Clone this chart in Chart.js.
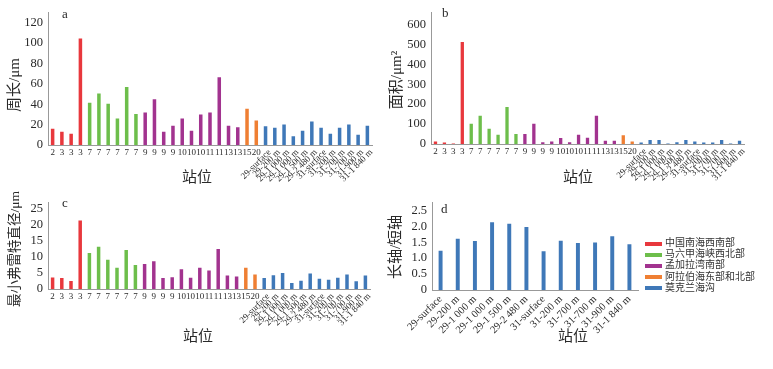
<!DOCTYPE html>
<html>
<head>
<meta charset="utf-8">
<script src="https://cdn.jsdelivr.net/npm/chart.js@4/dist/chart.umd.min.js"></script>
<style>
  body { margin: 0; background: #fff; }
  #wrap { position: relative; width: 773px; height: 369px; overflow: hidden; }
  canvas { position: absolute; }
  #legend { position: absolute; left: 645px; top: 237px; font: 10px 'Liberation Serif', 'Noto Sans CJK SC', serif; color: #333; }
  #legend div { height: 11.2px; line-height: 11.2px; white-space: nowrap; }
  #legend span { display: inline-block; width: 17px; height: 4px; margin-right: 3px; vertical-align: middle; }
</style>
</head>
<body>
<div id="wrap">
  <canvas id="cA" width="385" height="190" style="left:0;top:0"></canvas>
  <canvas id="cB" width="388" height="190" style="left:385px;top:0"></canvas>
  <canvas id="cC" width="385" height="179" style="left:0;top:190px"></canvas>
  <canvas id="cD" width="388" height="179" style="left:385px;top:190px"></canvas>
  <div id="legend"></div>
</div>
<script>
// data
const groupNames = ['中国南海西南部', '马六甲海峡西北部', '孟加拉湾南部', '阿拉伯海东部和北部', '莫克兰海沟'];
const groupColors = ['#e8383d', '#6dbe4b', '#a2338f', '#ef7f33', '#3f78b8'];

const stations = ['2', '3', '3', '3', '7', '7', '7', '7', '7', '7',
  '9', '9', '9', '9', '10', '10', '10', '11', '11', '13', '13', '15', '20',
  '29-surface', '29-200 m', '29-1 000 m', '29-1 000 m', '29-1 500 m', '29-2 480 m',
  '31-surface', '31-200 m', '31-700 m', '31-700 m', '31-900 m', '31-1 840 m'];
const groupOf = [0, 0, 0, 0, 1, 1, 1, 1, 1, 1,
  2, 2, 2, 2, 2, 2, 2, 2, 2, 2, 2, 3, 3,
  4, 4, 4, 4, 4, 4, 4, 4, 4, 4, 4, 4];

const perimeter = [16, 13, 11, 104.5, 41.5, 50.5, 40.5, 26, 57, 30.5,
  32, 45, 13, 19, 26, 14, 30, 32, 66.5, 19, 17.5, 35.5, 24,
  18.5, 17, 20, 8.5, 14, 23, 17, 11, 17, 20, 10, 19];
const area = [13, 8, 3, 512, 102, 142, 76, 46, 186, 50,
  50, 102, 9, 13, 30, 9, 47, 31, 142, 16, 16, 44, 13,
  8, 20, 20, 2, 9, 20, 12, 8, 8, 20, 3, 16];
const feret = [3.6, 3.4, 2.5, 21.4, 11.2, 13.2, 9.1, 6.6, 12.2, 7.5,
  7.8, 8.7, 3.4, 3.7, 6.2, 3.5, 6.6, 5.75, 12.45, 4.25, 3.9, 6.6, 4.5,
  3.4, 4.3, 5.0, 1.9, 2.6, 4.8, 3.2, 2.9, 3.5, 4.5, 2.4, 4.25];

const stationsD = ['29-surface', '29-200 m', '29-1 000 m', '29-1 000 m', '29-1 500 m', '29-2 480 m',
  '31-surface', '31-200 m', '31-700 m', '31-700 m', '31-900 m', '31-1 840 m'];
const aspect = [1.235, 1.61, 1.54, 2.13, 2.08, 1.98, 1.22, 1.55, 1.48, 1.49, 1.69, 1.44];

const yTicksA = [0, 20, 40, 60, 80, 100, 120];
const yTicksB = [0, 100, 200, 300, 400, 500, 600];
const yTicksC = [0, 5, 10, 15, 20, 25];
const yTicksD = [0, 0.5, 1, 1.5, 2, 2.5];

const SERIF = "'Liberation Serif', 'Times New Roman', 'Noto Sans CJK SC', serif";
const TXT = '#2a2a2a';
const AXIS = '#999';

// letters, axis titles and mixed-rotation station labels
const panelDecor = {
  id: 'panelDecor',
  afterDraw(chart, args, o) {
    const { ctx, chartArea, scales } = chart;
    ctx.save();
    ctx.fillStyle = TXT;
    ctx.font = '13px ' + SERIF;
    ctx.textAlign = 'left';
    ctx.textBaseline = 'middle';
    ctx.fillText(o.letter, o.letterXY[0], o.letterXY[1]);

    if (o.mixedTicks) {
      const x = scales.x;
      ctx.font = '9px ' + SERIF;
      x.getLabels().forEach((lab, i) => {
        const px = x.getPixelForValue(i);
        if (lab.length <= 2) {
          ctx.textAlign = 'center';
          ctx.textBaseline = 'top';
          ctx.fillText(lab, px, chartArea.bottom + 3);
        } else {
          ctx.save();
          ctx.translate(px + 4, chartArea.bottom + 6);
          ctx.rotate(-Math.PI / 4);
          ctx.textAlign = 'right';
          ctx.textBaseline = 'middle';
          ctx.fillText(lab, 0, 0);
          ctx.restore();
        }
      });
    }

    ctx.font = '15px ' + SERIF;
    ctx.textAlign = 'center';
    ctx.textBaseline = 'middle';
    ctx.fillText('站位', o.xTitleXY[0], o.xTitleXY[1]);
    ctx.font = (o.yTitleSize || 15) + 'px ' + SERIF;
    ctx.save();
    ctx.translate(o.yTitleXY[0], o.yTitleXY[1]);
    ctx.rotate(-Math.PI / 2);
    ctx.fillText(o.yTitle, 0, 0);
    ctx.restore();
    ctx.restore();
  }
};

function makePanel(id, p) {
  new Chart(document.getElementById(id), {
    type: 'bar',
    data: {
      labels: p.labels,
      datasets: [{
        data: p.values,
        backgroundColor: p.colors,
        barPercentage: p.barPct,
        categoryPercentage: 1,
      }],
    },
    plugins: [panelDecor],
    options: {
      responsive: false,
      animation: false,
      devicePixelRatio: 1,
      layout: { padding: p.padding },
      plugins: {
        legend: { display: false },
        tooltip: { enabled: false },
        panelDecor: p.decor,
      },
      scales: {
        x: {
          grid: { display: false, drawTicks: false },
          border: { color: AXIS, width: 1 },
          ticks: {
            display: !p.decor.mixedTicks,
            color: TXT,
            font: { family: SERIF, size: 10.5 },
            minRotation: 45,
            maxRotation: 45,
            padding: 3,
            autoSkip: false,
          },
          afterFit: (s) => { s.height = p.xHeight; },
        },
        y: {
          min: 0,
          max: p.max,
          grid: { display: false, drawTicks: false },
          border: { color: AXIS, width: 1 },
          ticks: {
            color: TXT,
            font: { family: SERIF, size: 12.5 },
            padding: 5,
            autoSkip: false,
            callback: p.fmt || ((v) => v),
          },
          afterBuildTicks: (s) => { s.ticks = p.yTicks.map((v) => ({ value: v })); },
          afterFit: (s) => { s.width = p.yWidth; },
        },
      },
    },
  });
}

function drawAll() {
  const barColors = groupOf.map((g) => groupColors[g]);

  makePanel('cA', {
    labels: stations, values: perimeter, colors: barColors, barPct: 0.38,
    max: 130, yTicks: yTicksA, yWidth: 48, xHeight: 45,
    padding: { top: 4, right: 13, left: 0, bottom: 0 },
    decor: { letter: 'a', letterXY: [62, 15], mixedTicks: true, xTitleXY: [197, 178], yTitle: '周长/μm', yTitleXY: [15, 85] },
  });

  makePanel('cB', {
    labels: stations, values: area, colors: barColors, barPct: 0.37,
    max: 660, yTicks: yTicksB, yWidth: 46, xHeight: 46,
    padding: { top: 4, right: 29, left: 0, bottom: 0 },
    decor: { letter: 'b', letterXY: [57, 14], mixedTicks: true, xTitleXY: [193, 178], yTitle: '面积/μm²', yTitleXY: [12, 80] },
  });

  makePanel('cC', {
    labels: stations, values: feret, colors: barColors, barPct: 0.38,
    max: 27, yTicks: yTicksC, yWidth: 48, xHeight: 80,
    padding: { top: 4, right: 15, left: 0, bottom: 0 },
    decor: { letter: 'c', letterXY: [62, 14], mixedTicks: true, xTitleXY: [198, 147], yTitle: '最小弗雷特直径/μm', yTitleSize: 13.5, yTitleXY: [15, 59] },
  });

  makePanel('cD', {
    labels: stationsD, values: aspect, colors: groupColors[4], barPct: 0.23,
    max: 2.75, yTicks: yTicksD, yWidth: 47, xHeight: 79,
    padding: { top: 7, right: 135, left: 0, bottom: 0 },
    fmt: (v) => (v === 0 ? '0' : v.toFixed(1)),
    decor: { letter: 'd', letterXY: [56, 20], mixedTicks: false, xTitleXY: [188, 147], yTitle: '长轴/短轴', yTitleXY: [11, 57] },
  });

  const legend = document.getElementById('legend');
  groupNames.forEach((name, i) => {
    const row = document.createElement('div');
    row.innerHTML = '<span style="background:' + groupColors[i] + '"></span>' + name;
    legend.appendChild(row);
  });
}

Promise.all([
  document.fonts.load("12px 'Liberation Serif'"),
  document.fonts.load("14px 'Noto Sans CJK SC'", '站位'),
]).catch(() => {}).then(drawAll);
</script>
</body>
</html>
